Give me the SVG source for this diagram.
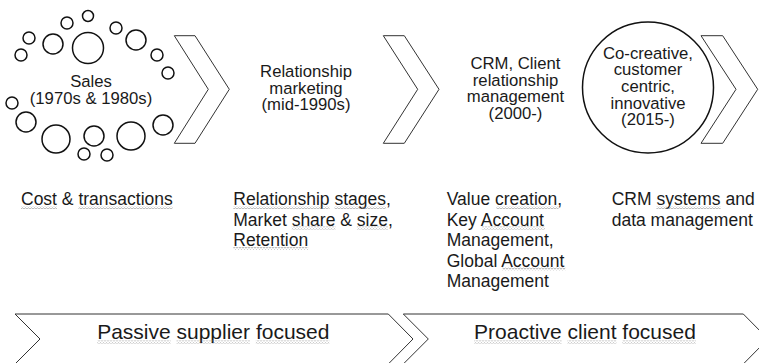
<svg xmlns="http://www.w3.org/2000/svg" width="759" height="363" viewBox="0 0 759 363">
<defs>
<style>
.t{font-family:"Liberation Sans",Arial,sans-serif;font-size:16.7px;fill:#1a1a1a;text-anchor:middle}
.b{font-family:"Liberation Sans",Arial,sans-serif;font-size:17.5px;fill:#1a1a1a}
.band{font-family:"Liberation Sans",Arial,sans-serif;font-size:21px;fill:#1a1a1a;text-anchor:middle}
.c{fill:none;stroke:#111;stroke-width:1.5}
.chev{fill:#fff;stroke:#333;stroke-width:1}
.sq{fill:url(#squig)}
</style>
<pattern id="squig" x="0" y="0" width="3" height="3" patternUnits="userSpaceOnUse">
<path d="M0 2.2 L1.5 0.8 L3 2.2" fill="none" stroke="#8a8a8a" stroke-width="0.7"/>
</pattern>
</defs>
<rect width="759" height="363" fill="#fff"/>

<g id="sales">
<circle class="c" cx="88" cy="16" r="5.5"/>
<circle class="c" cx="67" cy="23" r="6"/>
<circle class="c" cx="116" cy="28" r="6"/>
<circle class="c" cx="29" cy="38" r="6"/>
<circle class="c" cx="53" cy="44" r="10"/>
<circle class="c" cx="88" cy="48" r="15.5"/>
<circle class="c" cx="136" cy="40" r="10"/>
<circle class="c" cx="21" cy="55" r="6"/>
<circle class="c" cx="157" cy="55" r="6"/>
<circle class="c" cx="168" cy="73" r="6"/>
<circle class="c" cx="12" cy="103" r="6"/>
<circle class="c" cx="26" cy="122" r="10"/>
<circle class="c" cx="56" cy="139" r="14"/>
<circle class="c" cx="94" cy="136" r="10"/>
<circle class="c" cx="131" cy="136" r="14"/>
<circle class="c" cx="163" cy="125" r="10"/>
<circle class="c" cx="84" cy="154" r="6"/>
<circle class="c" cx="107" cy="155" r="6"/>
<text class="t" x="91" y="87">Sales</text>
<text class="t" x="91" y="103.5">(1970s &amp; 1980s)</text>
</g>

<g id="relationship-marketing">
<text class="t" x="306" y="77.3">Relationship</text>
<text class="t" x="306" y="93.8">marketing</text>
<text class="t" x="306" y="110.3">(mid-1990s)</text>
</g>

<g id="crm">
<text class="t" x="515.5" y="69">CRM, Client</text>
<text class="t" x="515.5" y="85.5">relationship</text>
<text class="t" x="515.5" y="102">management</text>
<text class="t" x="515.5" y="118.5">(2000-)</text>
</g>

<g id="co-creative">
<circle class="c" cx="648" cy="87.5" r="65.5"/>
<text class="t" x="648" y="58.5">Co-creative,</text>
<text class="t" x="648" y="75.2">customer</text>
<text class="t" x="648" y="91.9">centric,</text>
<text class="t" x="648" y="108.6">innovative</text>
<text class="t" x="648" y="125.3">(2015-)</text>
</g>

<g id="connectors">
<polygon class="chev" points="174.3,35.7 195,35.7 229.3,89.3 195,143.3 174.3,143.3 208.3,89.3"/>
<polygon class="chev" points="383.3,35.7 404.3,35.7 439,89.3 404.3,143.3 383.3,143.3 417.7,89.3"/>
<polygon class="chev" points="701,35.7 722.7,35.7 757.7,89.3 722.7,143.3 701,143.3 736,89.3"/>
</g>

<g id="desc-sales">
<text class="b" x="21" y="205">Cost &amp; transactions</text>
<rect class="sq" x="21" y="206" width="36" height="3"/>
<rect class="sq" x="78.4" y="206" width="94.3" height="3"/>
</g>

<g id="desc-relationship">
<text class="b" x="233.3" y="205">Relationship stages,</text>
<text class="b" x="233.3" y="225.5">Market share &amp; size,</text>
<text class="b" x="233.3" y="246">Retention</text>
<rect class="sq" x="233.3" y="206" width="96.3" height="3"/>
<rect class="sq" x="334.5" y="206" width="51.6" height="3"/>
<rect class="sq" x="291.7" y="226.5" width="43.8" height="3"/>
<rect class="sq" x="356.9" y="226.5" width="31.1" height="3"/>
<rect class="sq" x="233.3" y="247" width="74.9" height="3"/>
</g>

<g id="desc-crm">
<text class="b" x="446.7" y="205">Value creation,</text>
<text class="b" x="446.7" y="225.5">Key Account</text>
<text class="b" x="446.7" y="246">Management,</text>
<text class="b" x="446.7" y="266.5">Global Account</text>
<text class="b" x="446.7" y="287">Management</text>
<rect class="sq" x="496.3" y="206" width="62.2" height="3"/>
<rect class="sq" x="481.8" y="226.5" width="63.2" height="3"/>
<rect class="sq" x="502.2" y="267.5" width="63.2" height="3"/>
</g>

<g id="desc-co-creative">
<text class="b" x="611.7" y="205">CRM systems and</text>
<text class="b" x="611.7" y="225.5">data management</text>
<rect class="sq" x="656.4" y="206" width="64.2" height="3"/>
</g>

<g id="band-passive">
<polygon class="chev" points="15,314 388.3,314 413,339 388.3,364 15,364 40,339"/>
<text class="band" x="213.3" y="339">Passive supplier focused</text>
<rect class="sq" x="97.2" y="340.5" width="73.5" height="3"/>
<rect class="sq" x="176.5" y="340.5" width="73.5" height="3"/>
<rect class="sq" x="255.8" y="340.5" width="73.6" height="3"/>
</g>

<g id="band-proactive">
<polygon class="chev" points="403.3,314 743.3,314 768,339 743.3,364 403.3,364 428.3,339"/>
<text class="band" x="585" y="339">Proactive client focused</text>
<rect class="sq" x="474.1" y="340.5" width="87.5" height="3"/>
<rect class="sq" x="567.4" y="340.5" width="49" height="3"/>
<rect class="sq" x="622.3" y="340.5" width="73.6" height="3"/>
</g>
</svg>
